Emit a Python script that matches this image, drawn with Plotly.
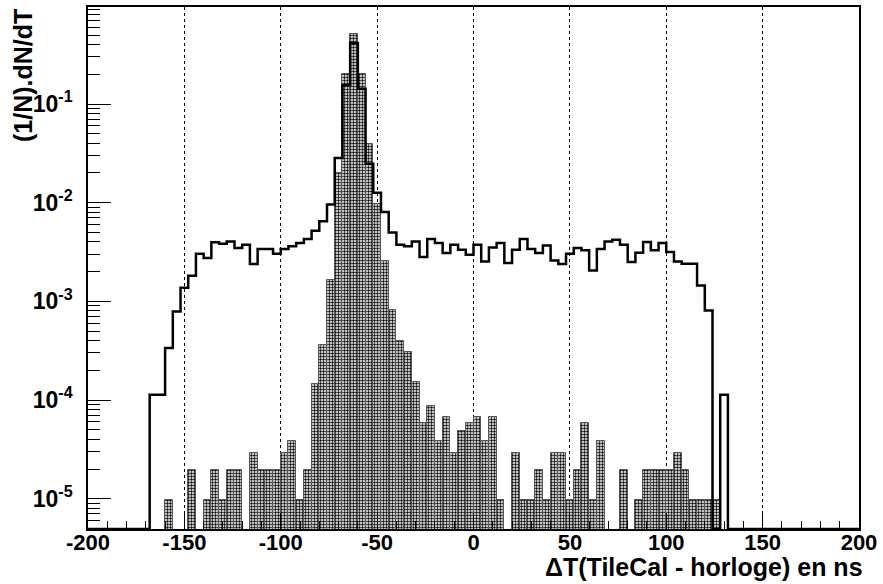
import numpy as np
import plotly.graph_objects as go

# Histogram binning (ns)
bin_width = 4
x_low, x_high = -200, 200

# All events: (1/N).dN/dT per bin, first bin starts at -168 ns
all_first = -168
all_vals = [
    1.13e-4, 1.13e-4, 3.37e-4, 7.9e-4, 1.37e-3, 1.82e-3, 3.04e-3, 2.75e-3, 3.96e-3, 3.84e-3,
    4.05e-3, 3.47e-3, 3.75e-3, 2.39e-3, 3.40e-3, 3.40e-3, 3.04e-3, 3.40e-3, 3.61e-3, 3.90e-3,
    4.28e-3, 5.20e-3, 6.47e-3, 9.6e-3, 2.84e-2, 0.155, 0.415, 0.143, 2.48e-2, 1.26e-2,
    8.05e-3, 5.0e-3, 3.75e-3, 3.61e-3, 4.05e-3, 2.82e-3, 4.28e-3, 3.90e-3, 3.09e-3, 3.75e-3,
    3.34e-3, 2.97e-3, 3.75e-3, 2.54e-3, 3.52e-3, 3.90e-3, 2.45e-3, 3.34e-3, 4.28e-3, 3.40e-3,
    3.09e-3, 3.68e-3, 2.60e-3, 2.39e-3, 3.04e-3, 3.47e-3, 3.29e-3, 2.05e-3, 3.40e-3, 4.05e-3,
    4.22e-3, 3.75e-3, 2.50e-3, 3.10e-3, 4.00e-3, 3.29e-3, 3.90e-3, 3.16e-3, 2.54e-3, 2.40e-3,
    2.40e-3, 1.45e-3, 8.1e-4, 0, 1.13e-4,
]

# Selected events (hatched histogram), first bin starts at -160 ns
sel_first = -160
sel_vals = [
    9.7e-6, 0, 0, 1.94e-5, 0, 9.7e-6, 1.94e-5, 9.7e-6, 1.94e-5, 1.94e-5,
    0, 2.91e-5, 1.94e-5, 1.94e-5, 1.94e-5, 2.91e-5, 3.88e-5, 9.7e-6, 1.94e-5, 1.46e-4,
    3.58e-4, 1.66e-3, 2.0e-2, 0.203, 0.515, 0.200, 3.93e-2, 9.7e-3, 2.54e-3, 8.1e-4,
    3.93e-4, 3.04e-4, 1.54e-4, 5.8e-5, 8.7e-5, 3.88e-5, 6.8e-5, 2.91e-5, 4.85e-5, 5.8e-5,
    6.8e-5, 3.88e-5, 6.8e-5, 9.7e-6, 0, 2.91e-5, 9.7e-6, 9.7e-6, 1.94e-5, 9.7e-6,
    2.91e-5, 2.91e-5, 9.7e-6, 1.94e-5, 5.8e-5, 9.7e-6, 3.88e-5, 0, 0, 1.94e-5,
    0, 9.7e-6, 1.94e-5, 1.94e-5, 1.94e-5, 1.94e-5, 2.91e-5, 1.94e-5, 9.7e-6, 9.7e-6,
    9.7e-6, 9.7e-6,
]

x_ticks = [-200, -150, -100, -50, 0, 50, 100, 150, 200]
y_decades = [-5, -4, -3, -2, -1]
y_range = [-5.307, -0.017]  # log10 axis range

edges = np.arange(x_low, x_high + bin_width, bin_width)


def full_hist(first, vals):
    h = np.zeros(len(edges) - 1)
    i0 = (first - x_low) // bin_width
    h[i0:i0 + len(vals)] = vals
    return h


h_all = full_hist(all_first, all_vals)
h_sel = full_hist(sel_first, sel_vals)

# empty bins of the outline run along the bottom of the frame (ROOT style)
floor = 10 ** y_range[0]
h_all_plot = np.where(h_all > 0, h_all, floor)
h_sel_plot = np.where(h_sel > 0, h_sel, np.nan)

fig = go.Figure()

# Hatched histogram
fig.add_trace(go.Bar(
    x=edges[:-1] + bin_width / 2, y=h_sel_plot, width=bin_width,
    marker=dict(
        color="white",
        line=dict(color="#555555", width=1),
        pattern=dict(shape=".", fgcolor="black", bgcolor="white",
                     size=3, solidity=0.5, fillmode="replace"),
    ),
))

# Outline histogram
fig.add_trace(go.Scatter(
    x=edges, y=np.append(h_all_plot, h_all_plot[-1]),
    mode="lines", line=dict(color="black", width=2.5, shape="hv"),
))

font_b = dict(family="Liberation Sans, Arial, sans-serif", size=22, color="black", weight="bold")

fig.update_layout(
    width=883, height=584,
    margin=dict(l=88, r=24, t=7, b=55, pad=0),
    plot_bgcolor="white", paper_bgcolor="white",
    showlegend=False, bargap=0,
    font=font_b,
)

fig.update_xaxes(
    range=[x_low, x_high],
    tickvals=x_ticks, ticktext=[str(v) for v in x_ticks],
    ticks="inside", ticklen=16, tickwidth=1, tickcolor="black",
    minor=dict(dtick=10, ticks="inside", ticklen=8, tickcolor="black", showgrid=False),
    showgrid=True, gridcolor="black", griddash="dot", gridwidth=1,
    showline=True, linecolor="black", linewidth=1.5, mirror=True,
    zeroline=False, tickfont=font_b, ticklabelstandoff=-7,
    layer="above traces", automargin=False,
)

fig.update_yaxes(
    type="log", range=y_range,
    tickvals=[10.0 ** d for d in y_decades],
    ticktext=["10<sup>%d</sup>" % d for d in y_decades],
    ticks="inside", ticklen=23, tickwidth=1, tickcolor="black",
    minor=dict(dtick="D1", ticks="inside", ticklen=12, tickcolor="black", showgrid=False),
    showgrid=False,
    showline=True, linecolor="black", linewidth=1.5, mirror=True,
    zeroline=False, tickfont=dict(font_b, size=23), ticklabelstandoff=9,
    layer="above traces", automargin=False,
)

# Axis titles, placed like ROOT (at the end of each axis)
fig.add_annotation(
    text="ΔT(TileCal - horloge) en ns", xref="paper", yref="paper",
    x=1.008, y=-0.073, xanchor="right", yanchor="middle",
    showarrow=False, font=dict(font_b, size=25),
)
fig.add_annotation(
    text="(1/N).dN/dT", xref="paper", yref="paper",
    x=-0.085, y=1.0, xanchor="center", yanchor="top", textangle=-90,
    showarrow=False, font=dict(font_b, size=25),
)

# page body margin would shift the figure by 8 px
fig.write_html("out.html", config={"displayModeBar": False},
               post_script="document.body.style.margin='0px';")
